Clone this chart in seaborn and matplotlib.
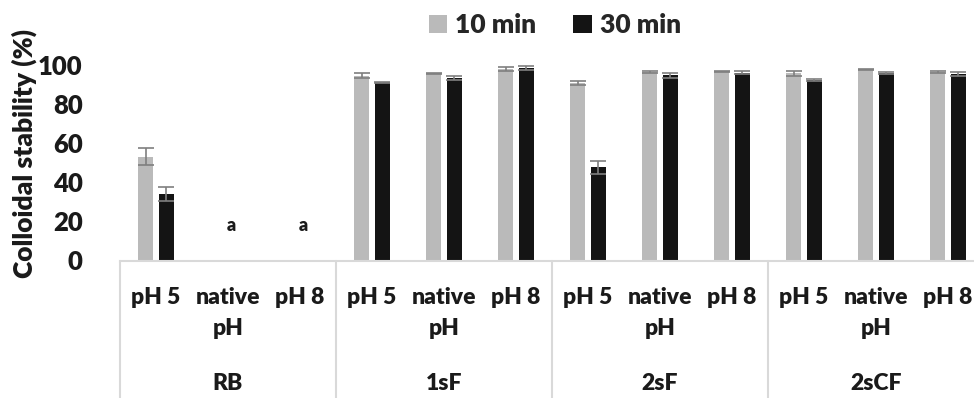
import matplotlib
matplotlib.use("Agg")
import matplotlib.pyplot as plt
import seaborn as sns
import pandas as pd
import numpy as np
from matplotlib.patches import Patch

# ---- data ----
groups = ["RB", "1sF", "2sF", "2sCF"]
conditions = ["pH 5", "native pH", "pH 8"]
cond_labels = ["pH 5", "native\npH", "pH 8"]
series = ["10 min", "30 min"]
vals_10 = [53.1, 0.0, 0.0, 94.5, 95.8, 98.0, 90.8, 96.3, 96.8, 95.8, 97.8, 96.4]
vals_30 = [33.9, 0.0, 0.0, 91.1, 93.4, 98.3, 47.7, 94.7, 96.1, 92.5, 95.9, 95.2]
err_10 = [4.5, 0.0, 0.0, 1.3, 0.3, 1.1, 0.8, 0.6, 0.3, 1.3, 0.3, 0.3]
err_30 = [3.5, 0.0, 0.0, 0.3, 1.1, 1.0, 3.4, 1.2, 0.8, 0.5, 0.7, 1.0]
annot = ["", "a", "a", "", "", "", "", "", "", "", "", ""]
annot_y = 18
yticks = [0, 20, 40, 60, 80, 100]

keys = [f"{g}|{c}" for g in groups for c in conditions]
df = pd.DataFrame({
    "key": keys * 2,
    "series": [series[0]] * len(keys) + [series[1]] * len(keys),
    "value": vals_10 + vals_30,
})

FONT = ["Lato", "DejaVu Sans"]
WT = "heavy"
sns.set_theme(style="white")
plt.rcParams["font.family"] = FONT
plt.rcParams["font.weight"] = WT

W, H = 974, 398
fig = plt.figure(figsize=(W / 100, H / 100), dpi=100)
x0, x1 = 120, 974
y_top, y_bot = 65, 260.5
ax = fig.add_axes([x0 / W, 1 - y_bot / H, (x1 - x0) / W, (y_bot - y_top) / H])

colors = {"10 min": "#bababa", "30 min": "#141414"}
sns.barplot(data=df, x="key", y="value", hue="series", order=keys,
            hue_order=series, palette=colors, width=0.583, gap=0.24,
            errorbar=None, legend=False, ax=ax, saturation=1,
            linewidth=0)

for cont, errs in zip(ax.containers, [err_10, err_30]):
    for bar, e in zip(cont, errs):
        if e > 0:
            cx = bar.get_x() + bar.get_width() / 2
            ax.errorbar(cx, bar.get_height(), yerr=e, fmt="none",
                        ecolor="#7f7f7f", elinewidth=1.2, capsize=5.5,
                        capthick=1.2, zorder=5)

for i, t in enumerate(annot):
    if t:
        ax.text(i + 0.05, annot_y, t, ha="center", va="center",
                fontsize=13, fontweight=WT, color="#1a1a1a")

ax.set_xlim(-0.5, -0.5 + (x1 - x0) / 72)
ax.set_ylim(0, 100)
ax.set_yticks(yticks)
ax.set_yticklabels([str(v) for v in yticks], fontsize=18.5, fontweight=WT,
                   color="#1a1a1a")
ax.tick_params(axis="y", length=0, pad=27)
ax.set_xticks(range(len(keys)))
ax.set_xticklabels(cond_labels * len(groups), fontsize=16.5,
                   fontweight=WT, color="#1a1a1a", linespacing=1.6)
ax.tick_params(axis="x", length=0, pad=19)
ax.set_xlabel("")
ax.set_ylabel("")
for s in ["top", "right", "left"]:
    ax.spines[s].set_visible(False)
ax.spines["bottom"].set_color("#d9d9d9")
ax.spines["bottom"].set_linewidth(1.5)

# group separators and group labels
trans = ax.get_xaxis_transform()
ybottom = -(H - y_bot) / (y_bot - y_top)
for k in range(len(groups)):
    xs = k * 3 - 0.5
    ax.plot([xs, xs], [0, ybottom], transform=trans, color="#d9d9d9",
            lw=1.5, clip_on=False)
    ax.text(k * 3 + 1, -(383 - y_bot) / (y_bot - y_top), groups[k],
            transform=trans, ha="center", va="center", fontsize=16.5,
            fontweight=WT, color="#1a1a1a")

fig.text(24 / W, 1 - 153 / H, "Colloidal stability (%)", rotation=90,
         ha="center", va="center", fontsize=19, fontweight=WT,
         color="#1a1a1a")

handles = [Patch(facecolor=colors[s], edgecolor="none") for s in series]
fig.legend(handles, series, loc="center", bbox_to_anchor=(555 / W, 1 - 25 / H),
           ncol=2, frameon=False, handlelength=0.7,
           handleheight=0.7, handletextpad=0.3, columnspacing=1.4,
           prop={"weight": WT, "size": 19})

fig.savefig("out.png", dpi=100)
